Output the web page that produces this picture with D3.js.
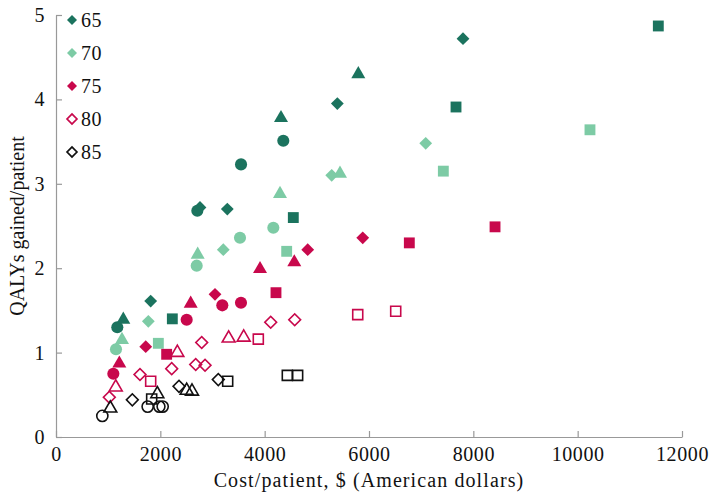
<!DOCTYPE html>
<html>
<head>
<meta charset="utf-8">
<script src="https://cdn.jsdelivr.net/npm/d3@7"></script>
<style>
  body { margin: 0; background: #fff; }
  svg text { font-family: "Liberation Serif", "DejaVu Serif", serif; fill: #111; }
</style>
</head>
<body>
<svg id="chart"></svg>
<script>
// age groups and their look
const ages = ['65', '70', '75', '80', '85'];
const ageColors = ['#1b735e', '#7dcba5', '#c8084c', '#c8084c', '#111111'];
const ageFilled = [true, true, true, false, false];

// points per age group: [shape, cost ($), QALYs gained]
const points65 = [
    ['d', 1815, 1.61], ['d', 2760, 2.72], ['d', 3284, 2.70], ['d', 5393, 3.95], ['d', 7802, 4.72],
    ['c', 1175, 1.30], ['c', 2709, 2.68], ['c', 3547, 3.23], ['c', 4357, 3.51],
    ['t', 1290, 1.39], ['t', 4313, 3.78], ['t', 5795, 4.30],
    ['s', 2230, 1.40], ['s', 4549, 2.60], ['s', 7668, 3.91], ['s', 11546, 4.87]
];
const points70 = [
    ['c', 1150, 1.04], ['c', 2697, 2.03], ['c', 3527, 2.36], ['c', 4166, 2.48],
    ['t', 1265, 1.15], ['t', 2716, 2.16], ['t', 4294, 2.88], ['t', 5444, 3.12],
    ['d', 1770, 1.37], ['d', 3207, 2.22], ['d', 5285, 3.10], ['d', 7087, 3.48],
    ['s', 1962, 1.11], ['s', 4422, 2.20], ['s', 7425, 3.15], ['s', 10236, 3.64]
];
const points75 = [
    ['c', 1099, 0.75], ['c', 2505, 1.39], ['c', 3188, 1.56], ['c', 3546, 1.59],
    ['t', 1214, 0.87], ['t', 2582, 1.58], ['t', 3911, 1.99], ['t', 4568, 2.07],
    ['d', 1720, 1.07], ['d', 3048, 1.69], ['d', 4825, 2.22], ['d', 5880, 2.36],
    ['s', 2121, 0.98], ['s', 4217, 1.71], ['s', 6773, 2.30], ['s', 8416, 2.49]
];
const points80 = [
    ['d', 1022, 0.47], ['d', 1610, 0.74], ['d', 2218, 0.81], ['d', 2678, 0.86],
    ['d', 2857, 0.85], ['d', 2793, 1.12], ['d', 4116, 1.36], ['d', 4576, 1.39],
    ['t', 1145, 0.59], ['t', 2326, 1.00], ['t', 3310, 1.17], ['t', 3598, 1.18],
    ['s', 1815, 0.66], ['s', 3878, 1.16], ['s', 5784, 1.45], ['s', 6512, 1.49]
];
const points85 = [
    ['c', 888, 0.25], ['c', 1757, 0.36], ['c', 1981, 0.36], ['c', 2045, 0.36],
    ['t', 1041, 0.34], ['t', 1942, 0.51], ['t', 2505, 0.55], ['t', 2607, 0.54],
    ['d', 1463, 0.44], ['d', 2358, 0.60], ['d', 3111, 0.68],
    ['s', 1834, 0.45], ['s', 3291, 0.66], ['s', 4434, 0.73], ['s', 4632, 0.73]
];
const allPoints = [points65, points70, points75, points80, points85];

const xTicks = [0, 2000, 4000, 6000, 8000, 10000, 12000];
const yTicks = [0, 1, 2, 3, 4, 5];

const width = 709, height = 499;
const margin = {top: 15, right: 27, bottom: 62, left: 56};
const w = width - margin.left - margin.right;
const h = height - margin.top - margin.bottom;

const svg = d3.select('#chart').attr('width', width).attr('height', height);
const g = svg.append('g').attr('transform', 'translate(' + margin.left + ',' + margin.top + ')');

const x = d3.scaleLinear().domain([0, 12000]).range([0, w]);
const y = d3.scaleLinear().domain([0, 5]).range([h, 0]);

// axes: ticks point inwards, grey lines
const xAxis = d3.axisBottom(x).tickValues(xTicks).tickSizeInner(-6).tickSizeOuter(0).tickPadding(10).tickFormat(d3.format('d'));
const yAxis = d3.axisLeft(y).tickValues(yTicks).tickSizeInner(-6).tickSizeOuter(0).tickPadding(11).tickFormat(d3.format('d'));

const xg = g.append('g').attr('transform', 'translate(0,' + h + ')').call(xAxis);
const yg = g.append('g').call(yAxis);
[xg, yg].forEach(a => {
    a.attr('font-family', null).attr('font-size', null);
    a.selectAll('path, line').attr('stroke', '#999').attr('stroke-width', 1.2);
    a.selectAll('text').style('font-size', '20px').style('letter-spacing', '0.6px').attr('fill', '#111');
});

g.append('text')
    .attr('x', w / 2).attr('y', h + 50)
    .attr('text-anchor', 'middle')
    .style('font-size', '20px')
    .style('letter-spacing', '1.1px')
    .text('Cost/patient, $ (American dollars)');

g.append('text')
    .attr('transform', 'translate(' + (-32) + ',' + (h / 2) + ') rotate(-90)')
    .attr('text-anchor', 'middle')
    .style('font-size', '20px')
    .text('QALYs gained/patient');

const shapes = {
    d: {type: d3.symbolSquare, size: 82, rotate: 45},
    c: {type: d3.symbolCircle, size: 115, rotate: 0},
    t: {type: d3.symbolTriangle, size: 85, rotate: 0},
    s: {type: d3.symbolSquare, size: 118, rotate: 0}
};

function symbolPath(key, scale) {
    return d3.symbol().type(shapes[key].type).size(shapes[key].size * (scale || 1))();
}

function styleMark(sel, i) {
    if (ageFilled[i]) {
        sel.attr('fill', ageColors[i]).attr('stroke', 'none');
    } else {
        sel.attr('fill', 'none').attr('stroke', ageColors[i]).attr('stroke-width', 1.6);
    }
}

// draw open series last so they sit on top like the original
allPoints.forEach((pts, i) => {
    const scale = ageFilled[i] ? 1 : 0.85;
    const marks = g.append('g').selectAll('path')
        .data(pts)
        .join('path')
        .attr('d', d => symbolPath(d[0], scale))
        .attr('transform', d => 'translate(' + x(d[1]) + ',' + y(d[2]) + ') rotate(' + shapes[d[0]].rotate + ')');
    styleMark(marks, i);
});

// legend
const legend = g.append('g').attr('transform', 'translate(16,5)');
ages.forEach((a, i) => {
    const row = legend.append('g').attr('transform', 'translate(0,' + (i * 33) + ')');
    const m = row.append('path')
        .attr('d', d3.symbol().type(d3.symbolSquare).size(50)())
        .attr('transform', 'rotate(45)');
    styleMark(m, i);
    row.append('text')
        .attr('x', 9).attr('y', 7)
        .style('font-size', '20px')
        .style('letter-spacing', '0.6px')
        .text(a);
});
</script>
</body>
</html>
